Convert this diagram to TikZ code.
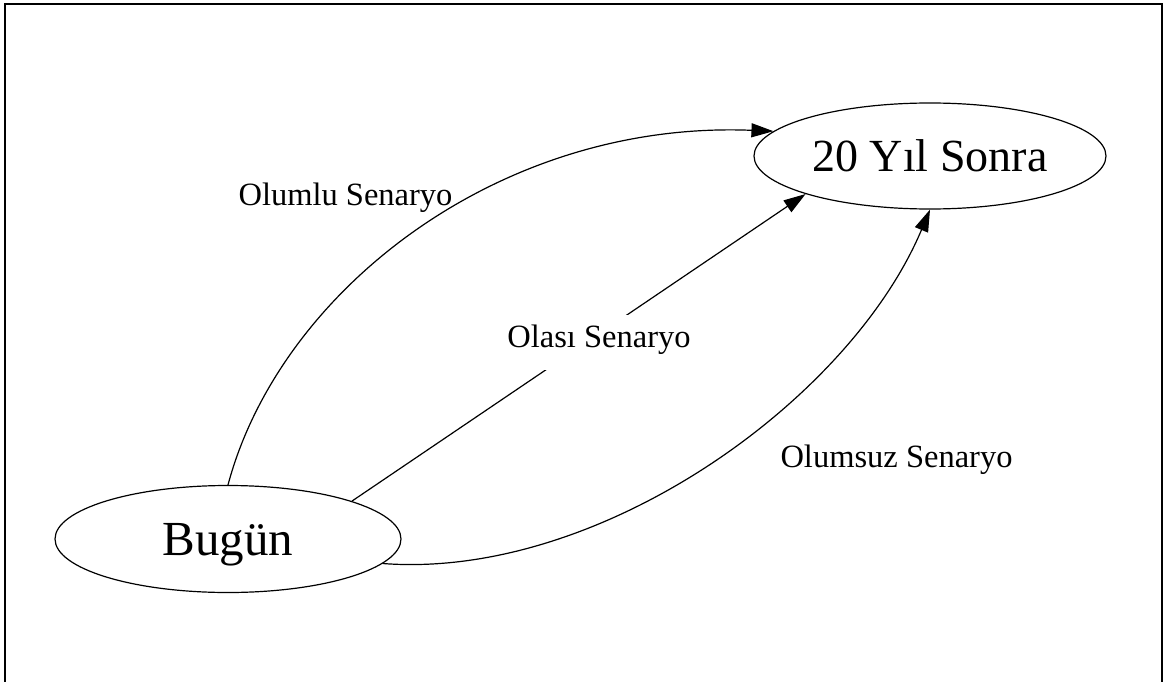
\documentclass[tikz,border=0pt]{standalone}
\usepackage{fontspec}
\setmainfont{Liberation Serif}
\usetikzlibrary{arrows.meta,shapes.geometric}
\begin{document}
\begin{tikzpicture}[x=1pt,y=-1pt,
  statenode/.style={draw,ellipse,line width=1.2pt,inner sep=0pt,text depth=0pt},
  edgeline/.style={line width=1.2pt,-{Triangle[length=22pt,width=14pt]}},
  edgelabel/.style={anchor=base,inner sep=0pt,font=\fontsize{32.5}{38}\selectfont}]
\useasboundingbox (0,0) rectangle (1167,682);
\draw[line width=1.5pt] (5,690) -- (5,4) -- (1162,4) -- (1162,690);
\node[statenode,minimum width=352pt,minimum height=106pt,text height=31pt,
  font=\fontsize{46}{54}\selectfont] (t) at (930,156) {20 Yıl Sonra};
\node[statenode,minimum width=346pt,minimum height=107pt,text height=32.5pt,
  font=\fontsize{49}{58}\selectfont] (b) at (228,539) {Bugün};
\draw[edgeline] (b.north) .. controls (280,290) and (500,120) .. (t.171.8);
\draw[edgeline] (b.17.4) -- (t.197.3);
\draw[edgeline] (b.351.2) .. controls (600,580) and (850,400) .. (t.270);
\node[edgelabel] (l1) at (345.5,205) {Olumlu Senaryo};
\node[edgelabel,fill=white,text height=22pt,text depth=13pt,inner ysep=10pt,inner xsep=4pt] (l2) at (599,347) {Olası Senaryo};
\node[edgelabel] (l3) at (896.5,467) {Olumsuz Senaryo};
\end{tikzpicture}
\end{document}
